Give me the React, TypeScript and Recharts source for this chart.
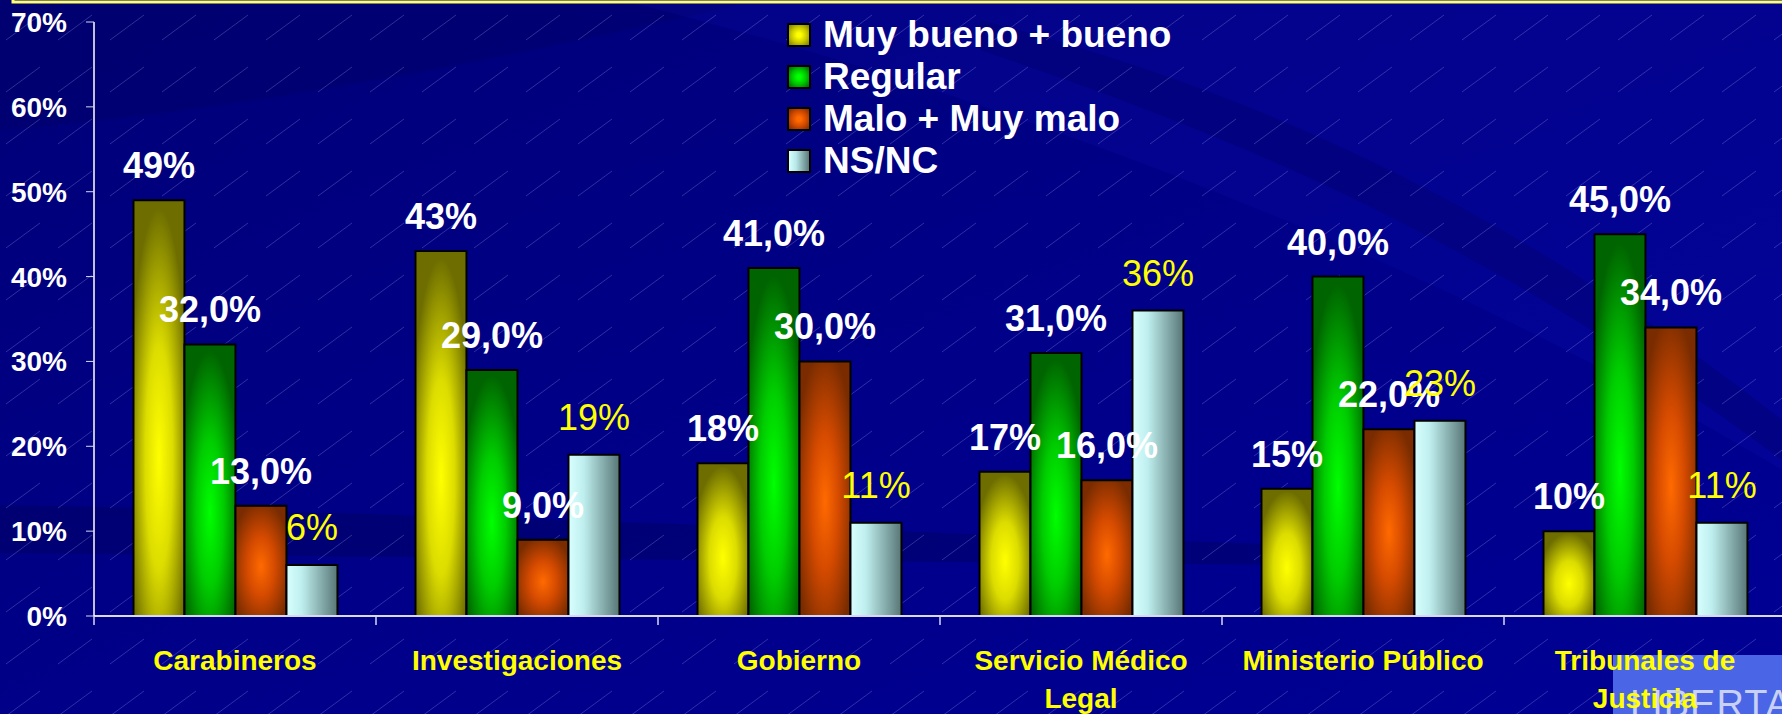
import React from "react";
import { Bar, BarChart, LabelList, Legend, XAxis, YAxis } from "recharts";

const categories = [
  "Carabineros",
  "Investigaciones",
  "Gobierno",
  "Servicio Médico Legal",
  "Ministerio Público",
  "Tribunales de Justicia",
];
const muyBueno = [49, 43, 18, 17, 15, 10];
const regular = [32, 29, 41, 31, 40, 45];
const malo = [13, 9, 30, 16, 22, 34];
const nsnc = [6, 19, 11, 36, 23, 11];
const seriesNames = ["Muy bueno + bueno", "Regular", "Malo + Muy malo", "NS/NC"];
const yTicks = [0, 10, 20, 30, 40, 50, 60, 70];

const data = categories.map((name, i) => ({
  name,
  muyBueno: muyBueno[i],
  regular: regular[i],
  malo: malo[i],
  nsnc: nsnc[i],
}));

const FONT = "'Liberation Sans', Arial, Helvetica, sans-serif";
const CHART_W = 1800;
const CHART_H = 714;
const PLOT_LEFT = 94;
const PLOT_RIGHT = 1786;
const BAND = (PLOT_RIGHT - PLOT_LEFT) / categories.length;

const legendSwatches = [
  "radial-gradient(circle, #ffff00 15%, #c8c800 55%, #7a7a00 100%)",
  "radial-gradient(circle, #00ff00 15%, #00c000 55%, #006000 100%)",
  "radial-gradient(circle, #ff6a00 15%, #d04800 55%, #7a2a00 100%)",
  "linear-gradient(90deg, #d8ffff 0%, #b8e8e8 35%, #5a7a7a 100%)",
];

let measureCtx: CanvasRenderingContext2D | null = null;
function wrapLabel(text: string, maxWidth: number): string[] {
  if (!measureCtx) measureCtx = document.createElement("canvas").getContext("2d");
  if (!measureCtx) return [text];
  measureCtx.font = `bold 28px ${FONT}`;
  const words = text.split(" ");
  const lines: string[] = [];
  let cur = "";
  for (const w of words) {
    const next = cur ? `${cur} ${w}` : w;
    if (cur && measureCtx.measureText(next).width > maxWidth) {
      lines.push(cur);
      cur = w;
    } else {
      cur = next;
    }
  }
  if (cur) lines.push(cur);
  return lines;
}

function CategoryTick(props: any) {
  const { x, y, payload } = props;
  const lines = wrapLabel(String(payload.value), 265);
  return (
    <g>
      <line x1={x - BAND / 2} x2={x - BAND / 2} y1={y} y2={y + 9} stroke="#d8d8f0" strokeWidth={1.5} />
      <text x={x} y={y + 54} textAnchor="middle" fill="#ffff00" fontSize={28} fontWeight="bold" fontFamily={FONT}>
        {lines.map((l, i) => (
          <tspan key={i} x={x} dy={i === 0 ? 0 : 38}>
            {l}
          </tspan>
        ))}
      </text>
    </g>
  );
}

// legend keeps the series order of the original slide
function LegendBox() {
  return (
    <div style={{ fontFamily: FONT }}>
      {seriesNames.map((name, i) => (
        <div key={name} style={{ display: "flex", alignItems: "center", height: 42 }}>
          <span
            style={{
              width: 20,
              height: 20,
              border: "2px solid #000",
              background: legendSwatches[i],
              marginRight: 12,
            }}
          />
          <span style={{ color: "#fff", fontWeight: "bold", fontSize: 37, lineHeight: "42px" }}>{name}</span>
        </div>
      ))}
    </div>
  );
}

function Background() {
  return (
    <svg width={1782} height={714} style={{ position: "absolute", left: 0, top: 0 }}>
      <defs>
        <linearGradient id="bgBase" x1="0" y1="0" x2="1" y2="1">
          <stop offset="0" stopColor="#000078" />
          <stop offset="0.5" stopColor="#000088" />
          <stop offset="1" stopColor="#000094" />
        </linearGradient>
        <pattern id="hatch" width={52} height={52} patternUnits="userSpaceOnUse">
          <line x1={6} y1={40} x2={40} y2={15} stroke="#9a9ae8" strokeOpacity={0.3} strokeWidth={1} />
        </pattern>
      </defs>
      <rect x={0} y={0} width={1782} height={714} fill="url(#bgBase)" />
      <path d="M0 0 L760 0 C500 60 250 110 0 130 Z" fill="#000060" opacity={0.35} />
      <path d="M620 0 L1782 0 L1782 470 C1500 300 1100 120 620 0 Z" fill="#1818c8" opacity={0.14} />
      <path d="M980 20 C1250 90 1500 200 1782 420 L1782 460 C1500 250 1250 140 980 50 Z" fill="#000060" opacity={0.3} />
      <path d="M0 505 C300 510 700 525 1300 545 L1300 565 C700 560 300 556 0 553 Z" fill="#000060" opacity={0.45} />
      <rect x={0} y={0} width={1782} height={714} fill="url(#hatch)" />
      <path d="M13 -2 V2 H1782" stroke="#ffff70" strokeWidth={3} fill="none" />
      <rect x={1613} y={655} width={169} height={59} fill="#4a66e6" />
      <text x={1630} y={717} fontSize={38} fill="#c8d0f4" fontFamily={FONT} letterSpacing={1}>
        LIBERTAD
      </text>
    </svg>
  );
}

export default function App() {
  return (
    <div style={{ position: "absolute", left: 0, top: 0, width: 1782, height: 714, overflow: "hidden", fontFamily: FONT }}>
      <Background />
      <div style={{ position: "absolute", left: 0, top: 0 }}>
        <BarChart
          width={CHART_W}
          height={CHART_H}
          data={data}
          margin={{ top: 22, right: CHART_W - PLOT_RIGHT, left: 0, bottom: 0 }}
          barCategoryGap="14%"
          barGap={0}
        >
          <defs>
            <radialGradient id="gYellow" cx="0.5" cy="0.62" r="0.6">
              <stop offset="0" stopColor="#ffff00" />
              <stop offset="0.45" stopColor="#dcdc00" />
              <stop offset="1" stopColor="#6e6e00" />
            </radialGradient>
            <radialGradient id="gGreen" cx="0.5" cy="0.62" r="0.6">
              <stop offset="0" stopColor="#00ff00" />
              <stop offset="0.45" stopColor="#00cc00" />
              <stop offset="1" stopColor="#006400" />
            </radialGradient>
            <radialGradient id="gOrange" cx="0.5" cy="0.55" r="0.6">
              <stop offset="0" stopColor="#ff6a00" />
              <stop offset="0.45" stopColor="#d44a00" />
              <stop offset="1" stopColor="#7a2c00" />
            </radialGradient>
            <linearGradient id="gCyan" x1="0" y1="0" x2="1" y2="0">
              <stop offset="0" stopColor="#d8ffff" />
              <stop offset="0.3" stopColor="#bfeeee" />
              <stop offset="1" stopColor="#587676" />
            </linearGradient>
          </defs>
          <XAxis
            dataKey="name"
            height={CHART_H - 616}
            tickSize={0}
            tickMargin={0}
            interval={0}
            axisLine={{ stroke: "#d8d8f0", strokeWidth: 2 }}
            tick={<CategoryTick />}
          />
          <YAxis
            domain={[0, 70]}
            ticks={yTicks}
            width={PLOT_LEFT}
            tickSize={8}
            tickMargin={19}
            tickFormatter={(v: number) => `${v}%`}
            axisLine={{ stroke: "#ffffff", strokeWidth: 1.5 }}
            tickLine={{ stroke: "#d8d8f0" }}
            tick={{ fill: "#ffffff", fontSize: 28, fontWeight: "bold", fontFamily: FONT }}
          />
          <Legend
            layout="horizontal"
            verticalAlign="middle"
            align="center"
            content={<LegendBox />}
            wrapperStyle={{ position: "absolute", left: 787, top: 14, width: 440, height: 170 }}
          />
          <Bar dataKey="muyBueno" name={seriesNames[0]} fill="url(#gYellow)" stroke="#000" strokeWidth={2} isAnimationActive={false}>
            <LabelList
              dataKey="muyBueno"
              position="top"
              offset={22}
              formatter={(v: any) => `${v}%`}
              fill="#ffffff"
              fontSize={36}
              fontWeight="bold"
              fontFamily={FONT}
            />
          </Bar>
          <Bar dataKey="regular" name={seriesNames[1]} fill="url(#gGreen)" stroke="#000" strokeWidth={2} isAnimationActive={false}>
            <LabelList
              dataKey="regular"
              position="top"
              offset={22}
              formatter={(v: any) => `${v},0%`}
              fill="#ffffff"
              fontSize={36}
              fontWeight="bold"
              fontFamily={FONT}
            />
          </Bar>
          <Bar dataKey="malo" name={seriesNames[2]} fill="url(#gOrange)" stroke="#000" strokeWidth={2} isAnimationActive={false}>
            <LabelList
              dataKey="malo"
              position="top"
              offset={22}
              formatter={(v: any) => `${v},0%`}
              fill="#ffffff"
              fontSize={36}
              fontWeight="bold"
              fontFamily={FONT}
            />
          </Bar>
          <Bar dataKey="nsnc" name={seriesNames[3]} fill="url(#gCyan)" stroke="#000" strokeWidth={2} isAnimationActive={false}>
            <LabelList
              dataKey="nsnc"
              position="top"
              offset={25}
              formatter={(v: any) => `${v}%`}
              fill="#ffff00"
              fontSize={36}
              fontFamily={FONT}
            />
          </Bar>
        </BarChart>
      </div>
    </div>
  );
}
